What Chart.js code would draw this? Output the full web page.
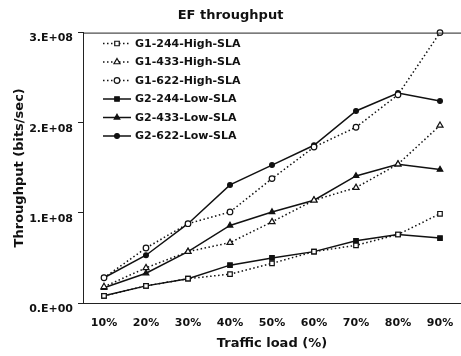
<!DOCTYPE html>
<html>
<head>
<meta charset="utf-8">
<script src="https://cdn.jsdelivr.net/npm/chart.js@4/dist/chart.umd.min.js"></script>
<style>
  body { margin: 0; background: #fff; }
  #wrap { width: 461px; height: 356px; }
</style>
</head>
<body>
<div id="wrap"><canvas id="myChart" width="461" height="356"></canvas></div>
<script>
// values
var categories = ['10%', '20%', '30%', '40%', '50%', '60%', '70%', '80%', '90%'];
var yTickLabels = ['0.E+00', '1.E+08', '2.E+08', '3.E+08'];

var g1_244 = [8e6, 19e6, 27e6, 32e6, 44e6, 57e6, 64e6, 76e6, 99e6];
var g1_433 = [18e6, 39e6, 57e6, 67e6, 90e6, 114e6, 128e6, 154e6, 197e6];
var g1_622 = [28e6, 61e6, 88e6, 101e6, 138e6, 173e6, 195e6, 231e6, 300e6];
var g2_244 = [8e6, 19e6, 27e6, 42e6, 50e6, 57e6, 69e6, 76e6, 72e6];
var g2_433 = [17e6, 33e6, 57e6, 86e6, 101e6, 114e6, 141e6, 154e6, 148e6];
var g2_622 = [28e6, 53e6, 88e6, 131e6, 153e6, 175e6, 213e6, 233e6, 224e6];

var boldFont = '"DejaVu Sans", Verdana, sans-serif';

function series(label, values, dotted, marker, filled, radius) {
  return {
    label: label,
    data: values,
    borderColor: '#111',
    backgroundColor: filled ? '#111' : '#fff',
    borderWidth: 1.5,
    borderDash: dotted ? [1.5, 2.5] : [],
    pointStyle: marker,
    pointRadius: radius,
    pointBorderWidth: 1.2,
    pointBackgroundColor: filled ? '#111' : '#fff',
    pointBorderColor: '#111',
    tension: 0,
    clip: false
  };
}

// legend drawn inside the plot, line sample + marker like the original
var insideLegend = {
  id: 'insideLegend',
  afterDraw: function(chart) {
    var ctx = chart.ctx;
    var x0 = 103, x1 = 131, tx = 135, y = 43.5, step = 18.5;
    ctx.save();
    ctx.font = 'bold 11px ' + boldFont;
    ctx.textBaseline = 'middle';
    ctx.textAlign = 'left';
    chart.data.datasets.forEach(function(ds, i) {
      var yy = y + i * step;
      ctx.strokeStyle = ds.borderColor;
      ctx.lineWidth = ds.borderWidth;
      ctx.setLineDash(ds.borderDash);
      ctx.beginPath();
      ctx.moveTo(x0, yy);
      ctx.lineTo(x1, yy);
      ctx.stroke();
      ctx.setLineDash([]);
      ctx.fillStyle = ds.pointBackgroundColor;
      ctx.lineWidth = ds.pointBorderWidth;
      Chart.helpers.drawPoint(ctx, {pointStyle: ds.pointStyle, radius: ds.pointRadius, rotation: 0, borderWidth: 1}, (x0 + x1) / 2, yy);
      ctx.fillStyle = '#111';
      ctx.fillText(ds.label, tx, yy + 0.5);
    });
    ctx.restore();
  }
};

// top border of the plot frame
var topFrame = {
  id: 'topFrame',
  afterDraw: function(chart) {
    var a = chart.chartArea, ctx = chart.ctx;
    ctx.save();
    ctx.strokeStyle = '#222';
    ctx.lineWidth = 1;
    ctx.beginPath();
    ctx.moveTo(a.left, a.top + 0.5);
    ctx.lineTo(chart.width, a.top + 0.5);
    ctx.stroke();
    ctx.restore();
  }
};

var ctx = document.getElementById('myChart').getContext('2d');

var myChart = new Chart(ctx, {
  type: 'line',
  data: {
    labels: categories,
    datasets: [
      series('G1-244-High-SLA', g1_244, true, 'rect', false, 3.2),
      series('G1-433-High-SLA', g1_433, true, 'triangle', false, 3.5),
      series('G1-622-High-SLA', g1_622, true, 'circle', false, 2.8),
      series('G2-244-Low-SLA', g2_244, false, 'rect', true, 3.2),
      series('G2-433-Low-SLA', g2_433, false, 'triangle', true, 3.2),
      series('G2-622-Low-SLA', g2_622, false, 'circle', true, 2.4)
    ]
  },
  options: {
    responsive: false,
    animation: false,
    devicePixelRatio: 1,
    layout: { autoPadding: false, padding: { left: -4, right: -4, top: 0, bottom: 0 } },
    plugins: {
      legend: { display: false },
      tooltip: { enabled: false },
      title: {
        display: true,
        text: 'EF throughput',
        color: '#111',
        font: { family: boldFont, size: 13, weight: 'bold' },
        padding: { top: 8, bottom: 9 }
      }
    },
    scales: {
      x: {
        offset: true,
        grid: { display: true, drawOnChartArea: false, drawTicks: true, tickLength: 14, color: 'rgba(0,0,0,0)' },
        border: { display: true, color: '#222', width: 1 },
        ticks: {
          color: '#111',
          padding: 0,
          font: { family: boldFont, size: 11, weight: 'bold' }
        },
        title: {
          display: true,
          text: 'Traffic load (%)',
          color: '#111',
          font: { family: boldFont, size: 13, weight: 'bold' },
          padding: { top: 0, bottom: 5 }
        },
        afterFit: function(s) { s.height = 53; s.paddingLeft = 0; s.paddingRight = 0; }
      },
      y: {
        min: 0,
        max: 3e8,
        grid: { display: true, drawOnChartArea: false, drawTicks: true, tickLength: 5, color: '#222' },
        border: { display: true, color: '#222', width: 1 },
        ticks: {
          stepSize: 1e8,
          color: '#111',
          padding: 5,
          labelOffset: 6,
          font: { family: boldFont, size: 11, weight: 'bold' },
          callback: function(v, i) { return yTickLabels[i]; }
        },
        title: {
          display: true,
          text: 'Throughput (bits/sec)',
          color: '#111',
          font: { family: boldFont, size: 13, weight: 'bold' },
          padding: { top: 16, bottom: 0 }
        },
        afterFit: function(s) { s.width = 87; }
      }
    }
  },
  plugins: [insideLegend, topFrame]
});
</script>
</body>
</html>
